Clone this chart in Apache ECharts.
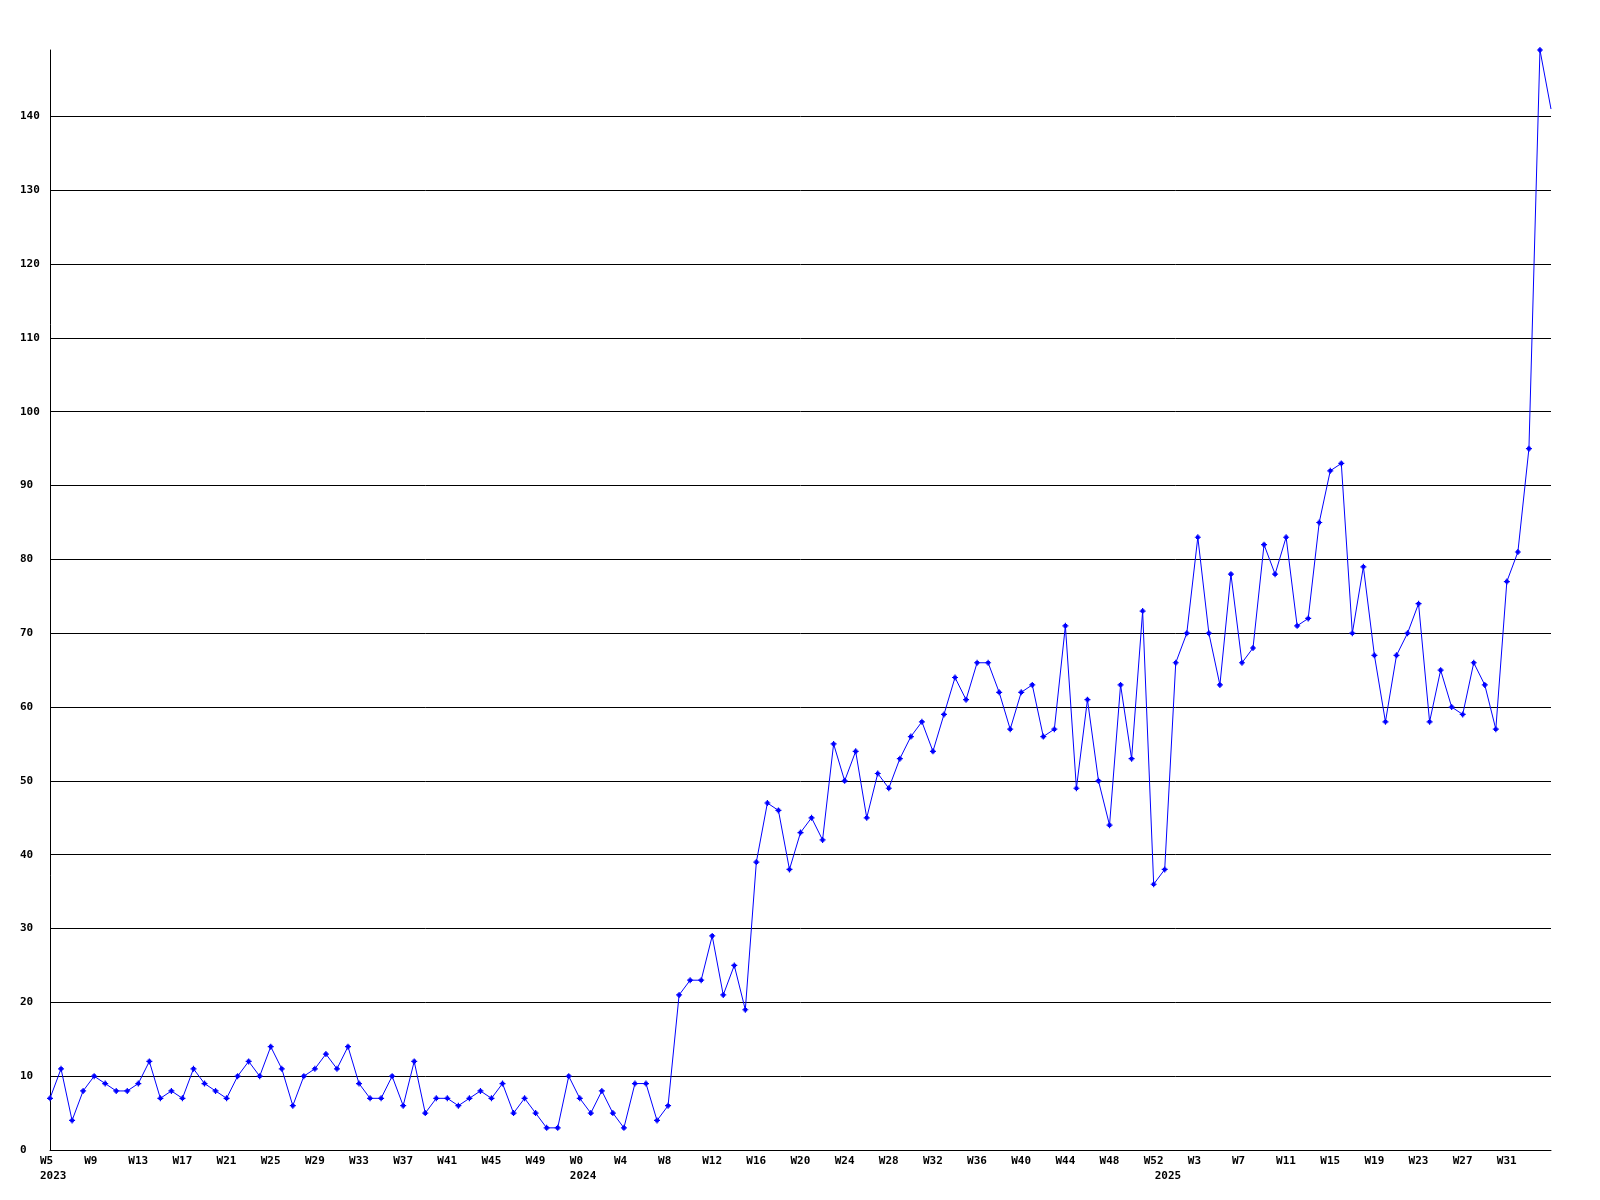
<!DOCTYPE html>
<html>
<head>
<meta charset="utf-8">
<script src="https://cdn.jsdelivr.net/npm/echarts@6/dist/echarts.min.js"></script>
<style>
html,body{margin:0;padding:0;background:#fff;}
#chart{width:1600px;height:1200px;}
</style>
</head>
<body>
<div id="chart"></div>
<script>
// Week ranges shown on the x axis (year, first week, last week)
const weekRanges = [
  [2023, 5, 52],
  [2024, 0, 52],
  [2025, 0, 35]
];

// Weekly counts, one array per year
const values2023 = [7,11,4,8,10,9,8,8,9,12,7,8,7,11,9,8,7,10,12,10,14,11,6,10,11,13,11,14,9,7,7,10,6,12,5,7,7,6,7,8,7,9,5,7,5,3,3,10];
const values2024 = [7,5,8,5,3,9,9,4,6,21,23,23,29,21,25,19,39,47,46,38,43,45,42,55,50,54,45,51,49,53,56,58,54,59,64,61,66,66,62,57,62,63,56,57,71,49,61,50,44,63,53,73,36];
const values2025 = [38,66,70,83,70,63,78,66,68,82,78,83,71,72,85,92,93,70,79,67,58,67,70,74,58,65,60,59,66,63,57,77,81,95,149,141];

const yMin = 0, yMax = 149, yStep = 10;
const labelEvery = 4;

const categories = [];
const yearOfIndex = [];
weekRanges.forEach(([y, a, b]) => {
  for (let w = a; w <= b; w++) { categories.push('W' + w); yearOfIndex.push(y); }
});
const values = values2023.concat(values2024, values2025);
const lastIdx = values.length - 1;
const yearStart = new Set();
yearOfIndex.forEach((y, i) => { if (i === 0 || yearOfIndex[i - 1] !== y) yearStart.add(i); });

const FONT = 'DejaVu Sans Mono';
const chart = echarts.init(document.getElementById('chart'), null, {renderer: 'canvas'});
const seriesData = values.map((v, i) => i === lastIdx ? {value: v, symbol: 'none'} : v);

chart.setOption({
  animation: false,
  backgroundColor: '#ffffff',
  grid: {left: 50, right: 49, top: 50, bottom: 50, containLabel: false, outerBoundsMode: 'none'},
  xAxis: [{
    type: 'category',
    data: categories,
    boundaryGap: false,
    axisLine: {show: true, lineStyle: {color: '#000', width: 1}},
    axisTick: {show: false},
    splitLine: {show: false},
    axisLabel: {
      interval: (idx) => idx % labelEvery === 0 && idx < lastIdx,
      align: 'left', margin: 6, padding: [0, 0, 0, -10],
      color: '#000', fontFamily: FONT, fontSize: 11, fontWeight: 'bold'
    }
  }, {
    type: 'category',
    data: categories,
    boundaryGap: false,
    position: 'bottom',
    offset: 15,
    axisLine: {show: false},
    axisTick: {show: false},
    splitLine: {show: false},
    axisLabel: {
      interval: (idx) => yearStart.has(idx),
      formatter: (val, idx) => String(yearOfIndex[idx]),
      align: 'left', margin: 6, padding: [0, 0, 0, -10],
      color: '#000', fontFamily: FONT, fontSize: 11, fontWeight: 'bold'
    }
  }],
  yAxis: {
    type: 'value',
    min: yMin, max: yMax, interval: yStep,
    axisLine: {show: true, lineStyle: {color: '#000', width: 1}},
    axisTick: {show: false},
    splitLine: {show: true, showMaxLine: false, lineStyle: {color: '#000', width: 1}},
    axisLabel: {
      showMaxLabel: false, align: 'left', margin: 30,
      color: '#000', fontFamily: FONT, fontSize: 11, fontWeight: 'bold'
    }
  },
  series: [{
    type: 'line',
    data: seriesData,
    xAxisIndex: 0,
    showAllSymbol: true,
    symbol: 'path://M2 0H3V1H4V2H5V3H4V4H3V5H2V4H1V3H0V2H1V1H2Z',
    symbolSize: 6,
    itemStyle: {color: '#0000ff'},
    lineStyle: {color: '#0000ff', width: 1},
    emphasis: {disabled: true},
    silent: true
  }]
});
</script>
</body>
</html>
